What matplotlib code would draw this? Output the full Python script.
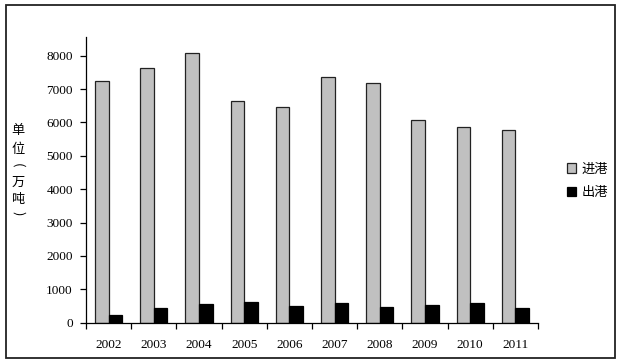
import numpy as np
import matplotlib
matplotlib.use("Agg")
import matplotlib.pyplot as plt
from matplotlib.patches import Rectangle

years = ["2002", "2003", "2004", "2005", "2006", "2007", "2008", "2009", "2010", "2011"]
inbound = [7250, 7620, 8080, 6640, 6470, 7370, 7180, 6070, 5870, 5780]   # 进港
outbound = [240, 430, 570, 630, 500, 600, 470, 540, 600, 430]            # 出港
yticks = [0, 1000, 2000, 3000, 4000, 5000, 6000, 7000, 8000]

serif = ["Liberation Serif", "DejaVu Serif"]
cjk = ["Noto Sans CJK SC", "DejaVu Sans"]

fig = plt.figure(figsize=(6.21, 3.62), dpi=100)
ax = fig.add_axes([86/621, 1-322.7/362, (538-86)/621, (322.7-37.3)/362])

x = np.arange(len(years))
w = 0.3
ax.bar(x - w/2, inbound, w, color="#c0c0c0", edgecolor="#222222", linewidth=0.9, label="进港")
ax.bar(x + w/2, outbound, w, color="black", edgecolor="black", linewidth=0.9, label="出港")

ax.set_xlim(-0.5, len(years) - 0.5)
ax.set_ylim(0, 8550)
ax.set_yticks(yticks)
ax.set_yticklabels([str(v) for v in yticks], family=serif, fontsize=9.5)
ax.set_xticks(x)
ax.set_xticklabels(years, family=serif, fontsize=9.5)
ax.tick_params(axis="x", which="major", length=0, pad=12)
ax.set_xticks(np.arange(len(years) + 1) - 0.5, minor=True)
ax.tick_params(axis="x", which="minor", length=4, width=0.9, direction="out")
ax.tick_params(axis="y", length=4, width=0.9, direction="out", pad=5.5)
for s in ["top", "right"]:
    ax.spines[s].set_visible(False)
for s in ["left", "bottom"]:
    ax.spines[s].set_linewidth(0.9)

# vertical y label, one character per line, brackets turned sideways
label_chars = [("单", 130, 0), ("位", 149, 0), ("(", 165, -90), ("万", 182, 0), ("吨", 199, 0), (")", 213, -90)]
for ch, ypx, rot in label_chars:
    fig.text(18/621, 1-ypx/362, ch, family=cjk, fontsize=9.5, rotation=rot,
             ha="center", va="center")

leg = fig.legend(loc="center left", bbox_to_anchor=(555/621, 1-181/362), frameon=False,
                 prop={"family": cjk, "size": 9.5}, handlelength=0.7, handleheight=0.7,
                 handletextpad=0.4, labelspacing=0.8)

fig.patches.append(Rectangle((6/621, 1-357.7/362), (615-6)/621, (357.7-5.3)/362,
                             transform=fig.transFigure, fill=False,
                             edgecolor="#222222", linewidth=1.3))

fig.savefig("out.png", dpi=100)
